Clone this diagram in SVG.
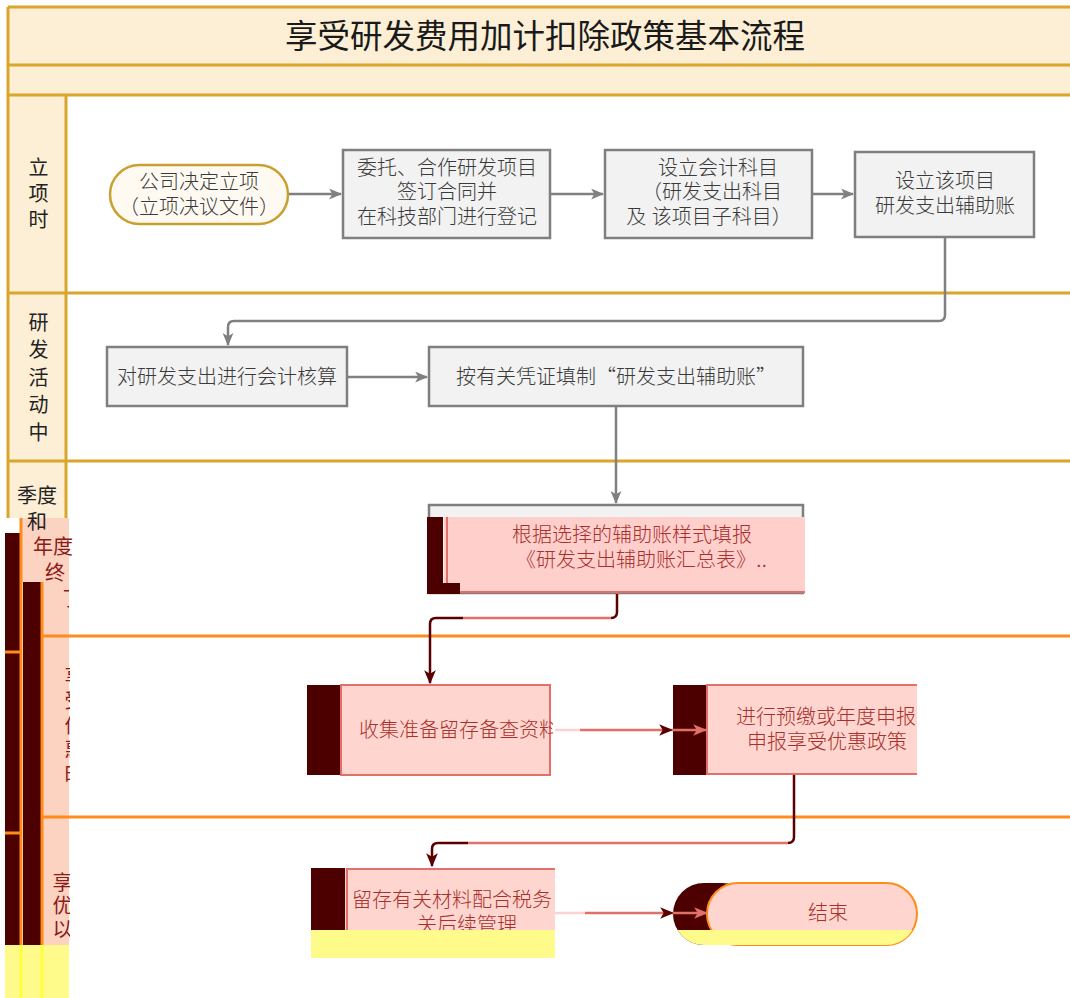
<svg xmlns="http://www.w3.org/2000/svg" width="1070" height="998" viewBox="0 0 1070 998">
<style>
.gold{stroke:#d9a52a;stroke-width:3;fill:none}
.bg{fill:#fcefd6}
.ttl{font-family:"Noto Sans CJK SC","Noto Sans",sans-serif;font-size:32.5px;fill:#1a1a1a;text-anchor:middle}
.lab{font-family:"Liberation Sans","Noto Sans CJK SC",sans-serif;font-size:20px;fill:#222;text-anchor:middle}
.labr{font-family:"Liberation Sans","Noto Sans CJK SC",sans-serif;font-size:20px;fill:#8b1a1a;text-anchor:middle}
.v{writing-mode:vertical-rl;text-anchor:start}
.gbox{fill:#f2f2f2;stroke:#7f7f7f;stroke-width:2.5}
.t{font-family:"Liberation Sans","Noto Sans CJK SC",sans-serif;font-size:20px;font-weight:300;fill:#3a3a3a;text-anchor:middle}
.tr{font-family:"Liberation Sans","Noto Sans CJK SC",sans-serif;font-size:20px;font-weight:300;fill:#a8302c;text-anchor:middle}
.cjk{font-family:"Noto Sans CJK SC",sans-serif}
.st{text-anchor:start}
.pk{fill:#ffd6cf}
.mr{fill:#4d0000}
.yl{fill:#fffb8a}
.or{stroke:#ff8c1a;stroke-width:3;fill:none}
.cg{stroke:#808080;stroke-width:2.5;fill:none}
.cm{stroke:#5a0000;stroke-width:2.5;fill:none}
.cs{stroke:#e07068;stroke-width:2.5;fill:none}
</style>
<defs>
<marker id="ag" viewBox="0 0 12 10" refX="11" refY="5" markerWidth="13" markerHeight="11" markerUnits="userSpaceOnUse" orient="auto"><path d="M0,0 L12,5 L0,10 L3,5 z" fill="#808080"/></marker>
<marker id="am" viewBox="0 0 12 10" refX="11" refY="5" markerWidth="14" markerHeight="12" markerUnits="userSpaceOnUse" orient="auto"><path d="M0,0 L12,5 L0,10 L3,5 z" fill="#5a0000"/></marker>
<marker id="as" viewBox="0 0 12 10" refX="11" refY="5" markerWidth="14" markerHeight="12" markerUnits="userSpaceOnUse" orient="auto"><path d="M0,0 L12,5 L0,10 L3,5 z" fill="#e07068"/></marker>
<clipPath id="cl1"><rect x="0" y="640" width="70" height="160"/></clipPath>
<clipPath id="cl2"><rect x="0" y="860" width="70" height="85"/></clipPath>
<clipPath id="cl3"><rect x="0" y="588" width="69" height="22"/></clipPath>
<clipPath id="cG"><rect x="340" y="685" width="213" height="90"/></clipPath>
<clipPath id="cH"><rect x="706" y="685" width="210" height="90"/></clipPath>
<clipPath id="cI"><rect x="345" y="868" width="210" height="62"/></clipPath>
<clipPath id="cEnd"><rect x="673" y="883" width="244" height="62" rx="31"/></clipPath>
</defs>
<rect width="1070" height="998" fill="#ffffff"/>

<g id="lanes">
<rect class="bg" x="8" y="7" width="1070" height="58"/>
<rect class="bg" x="8" y="65" width="1070" height="30"/>
<rect class="bg" x="8" y="95" width="58" height="198"/>
<rect class="bg" x="8" y="293" width="58" height="168"/>
<rect class="bg" x="8" y="461" width="58" height="57"/>
<path class="gold" d="M8,7 H1078 M8,65 H1078 M8,95 H1078 M8,293 H1078 M8,461 H1078 M8,7 V518 M66,95 V518"/>
<text class="ttl" x="545" y="48">享受研发费用加计扣除政策基本流程</text>
<rect class="mr" x="5" y="533" width="15" height="412"/>
<rect fill="#fcd3c0" x="22" y="518" width="47" height="64"/>
<rect class="mr" x="23" y="582" width="18" height="363"/>
<rect fill="#fcd3c0" x="43" y="582" width="26" height="363"/>
<path class="or" d="M21,518 V945 M42,582 V945 M5,652 H20 M5,833 H20"/>
<path class="or" d="M43,636 H1070 M43,817 H1070"/>
<rect class="yl" x="5" y="945" width="64" height="53"/>
<path stroke="#ffff40" stroke-width="3" d="M21,945 V998 M42,945 V998"/>
</g>

<g id="lane-labels">
<text class="lab v" x="37" y="157" letter-spacing="6">立项时</text>
<text class="lab v" x="37" y="312" letter-spacing="7.5">研发活动中</text>
<text class="lab" x="37" y="503">季度</text>
<text class="lab" x="37" y="529">和</text>
<text class="labr" x="53" y="554">年度</text>
<text class="labr" x="55" y="580">终</text>
<text class="labr" x="72" y="606" clip-path="url(#cl3)">了</text>
<text class="labr v" x="73" y="666" letter-spacing="4.5" clip-path="url(#cl1)">享受优惠时</text>
<text class="labr v" x="61" y="872" letter-spacing="3.5" clip-path="url(#cl2)">享优以</text>
</g>

<g id="start">
<rect x="110" y="165" width="178" height="59" rx="29.5" fill="#fefaf2" stroke="#c9a030" stroke-width="2.5"/>
<text class="t" x="199" y="189">公司决定立项</text>
<text class="t" x="199" y="214">（立项决议文件）</text>
</g>
<g id="node-a">
<rect class="gbox" x="343" y="150" width="207" height="88"/>
<text class="t" x="447" y="175">委托、合作研发项目</text>
<text class="t" x="447" y="199">签订合同并</text>
<text class="t" x="447" y="224">在科技部门进行登记</text>
</g>
<g id="node-b">
<rect class="gbox" x="605" y="150" width="207" height="88"/>
<text class="t" x="718" y="175">设立会计科目</text>
<text class="t" x="712" y="199">（研发支出科目</text>
<text class="t" x="709" y="224">及 该项目子科目）</text>
</g>
<g id="node-c">
<rect class="gbox" x="855" y="152" width="179" height="85"/>
<text class="t" x="945" y="188">设立该项目</text>
<text class="t" x="945" y="213">研发支出辅助账</text>
</g>
<g id="node-d">
<rect class="gbox" x="107" y="347" width="240" height="59"/>
<text class="t" x="227" y="384">对研发支出进行会计核算</text>
</g>
<g id="node-e">
<rect class="gbox" x="429" y="347" width="374" height="59"/>
<text class="t" x="616" y="384">按有关凭证填制<tspan class="cjk">“</tspan>研发支出辅助账<tspan class="cjk">”</tspan></text>
</g>
<g id="node-f">
<rect class="gbox" x="429" y="505" width="374" height="88"/>
<rect fill="#ffcfcc" x="444" y="517" width="361" height="76"/>
<path stroke="#e07068" stroke-width="2" fill="none" d="M447,517 V583 M460,592 H805"/>
<path class="mr" d="M427,517 H443 V583 H460 V594 H427 Z"/>
<text class="tr" x="632" y="542">根据选择的辅助账样式填报</text>
<text class="tr st" x="516" y="567">《研发支出辅助账汇总表》..</text>
</g>
<g id="node-g">
<rect class="mr" x="307" y="685" width="34" height="90"/>
<rect class="pk" x="341" y="685" width="209" height="90" stroke="#e07068" stroke-width="2"/>
<text class="tr st" x="359" y="737" clip-path="url(#cG)">收集准备留存备查资料</text>
</g>
<g id="node-h">
<rect class="mr" x="673" y="685" width="34" height="90"/>
<rect class="pk" x="707" y="685" width="212" height="89" stroke="#e07068" stroke-width="2"/>
<rect fill="#ffffff" x="917" y="680" width="20" height="100"/>
<text class="tr st" x="736" y="724" clip-path="url(#cH)">进行预缴或年度申报</text>
<text class="tr" x="827" y="749">申报享受优惠政策</text>
</g>
<g id="node-i">
<rect class="mr" x="311" y="868" width="34" height="62"/>
<rect class="pk" x="345" y="868" width="210" height="62"/>
<path stroke="#e07068" stroke-width="2" fill="none" d="M347,930 V869 H555"/>
<text class="tr st" x="352" y="907" clip-path="url(#cI)">留存有关材料配合税务</text>
<text class="tr" x="467" y="932" clip-path="url(#cI)">关后续管理</text>
<rect class="yl" x="311" y="930" width="244" height="28"/>
</g>
<g id="end">
<rect class="mr" x="673" y="883" width="80" height="62" rx="31"/>
<rect class="pk" x="707" y="883" width="210" height="62" rx="31" stroke="#ff8c1a" stroke-width="2"/>
<rect class="yl" x="673" y="930" width="244" height="15" clip-path="url(#cEnd)"/>
<text class="tr" x="828" y="920">结束</text>
</g>

<g id="connectors">
<path class="cg" marker-end="url(#ag)" d="M289,194 H341"/>
<path class="cg" marker-end="url(#ag)" d="M550,194 H603"/>
<path class="cg" marker-end="url(#ag)" d="M812,194 H853"/>
<path class="cg" marker-end="url(#ag)" d="M945,237 V315 Q945,321 939,321 H234 Q228,321 228,327 V345"/>
<path class="cg" marker-end="url(#ag)" d="M347,377 H427"/>
<path class="cg" marker-end="url(#ag)" d="M616,406 V503"/>
<path class="cs" d="M611,618 H463"/>
<path class="cm" d="M617,594 V612 Q617,618 611,618"/>
<path class="cm" marker-end="url(#am)" d="M463,618 H436 Q430,618 430,624 V683"/>
<path stroke="#ffd0d0" stroke-width="2.5" d="M555,730 H580"/>
<path class="cs" marker-end="url(#am)" d="M580,730 H672"/>
<path class="cs" marker-end="url(#as)" d="M672,730 H706"/>
<path class="cs" d="M788,843 H468"/>
<path class="cm" d="M794,775 V837 Q794,843 788,843"/>
<path class="cm" marker-end="url(#am)" d="M468,843 H438 Q432,843 432,849 V866"/>
<path stroke="#ffd0d0" stroke-width="2.5" d="M555,913 H585"/>
<path class="cs" marker-end="url(#am)" d="M585,913 H673"/>
<path class="cs" marker-end="url(#as)" d="M673,913 H707"/>
</g>
</svg>
